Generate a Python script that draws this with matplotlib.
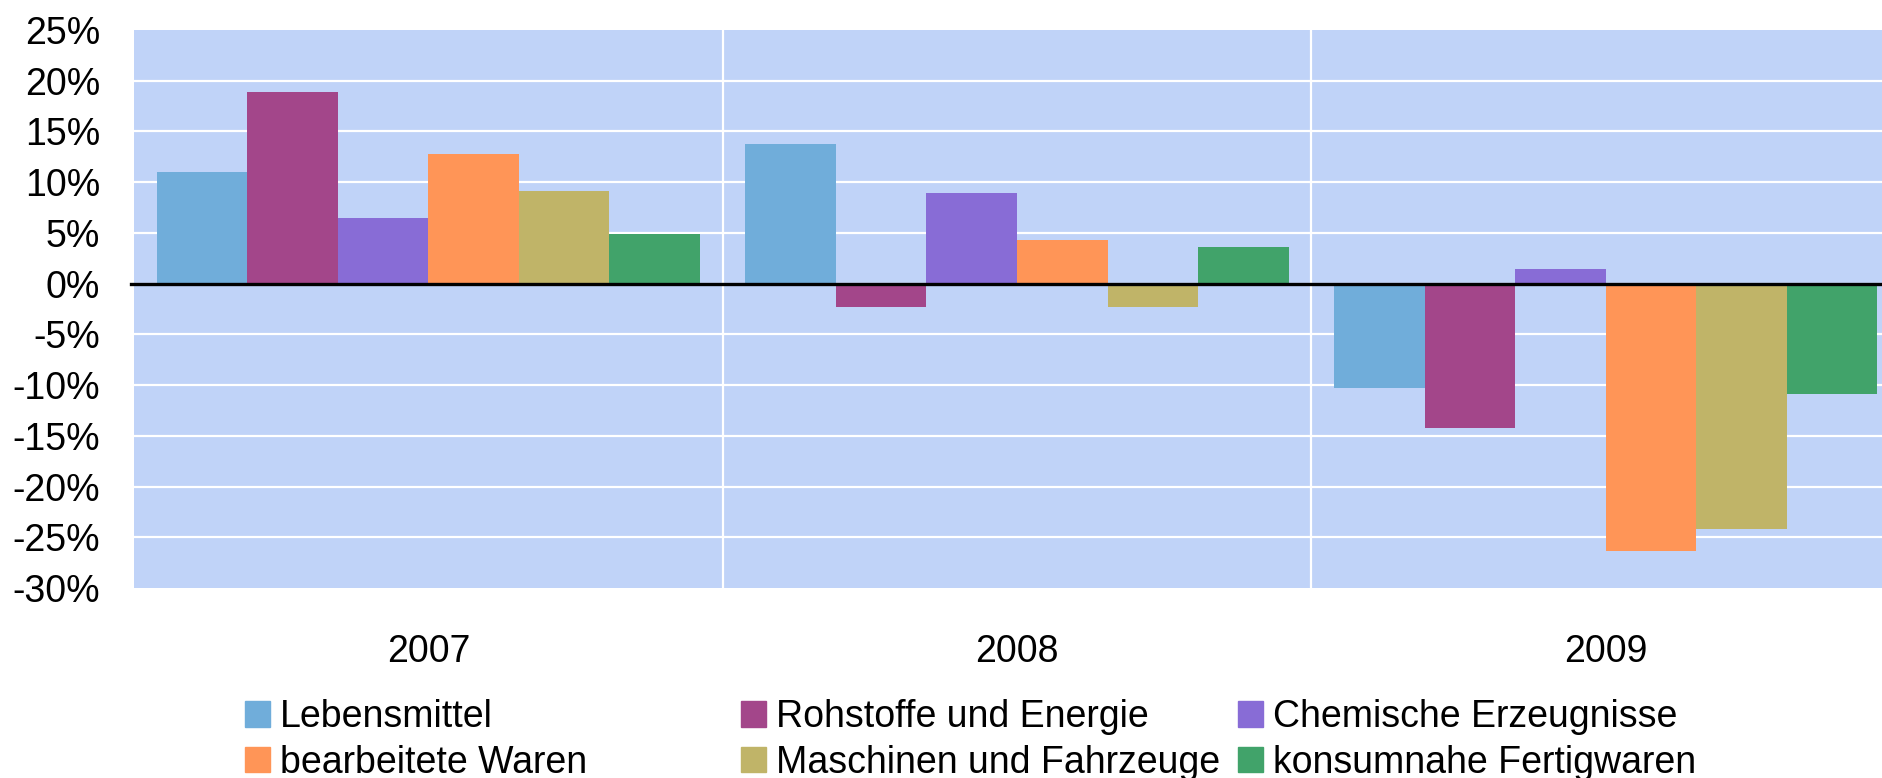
import matplotlib
matplotlib.use('Agg')
import matplotlib.pyplot as plt
import numpy as np
from matplotlib.patches import Patch
from matplotlib.ticker import FuncFormatter

plt.rcParams['font.family'] = ['Liberation Sans', 'DejaVu Sans']

years = ['2007', '2008', '2009']
series = ['Lebensmittel', 'Rohstoffe und Energie', 'Chemische Erzeugnisse',
          'bearbeitete Waren', 'Maschinen und Fahrzeuge', 'konsumnahe Fertigwaren']
colors = ['#70ADDA', '#A3468A', '#886CD6', '#FF9557', '#C0B468', '#41A36A']

lebensmittel = [11.0, 13.8, -10.3]
rohstoffe = [18.9, -2.3, -14.2]
chemische = [6.5, 8.9, 1.4]
bearbeitete = [12.8, 4.3, -26.4]
maschinen = [9.1, -2.3, -24.2]
konsumnahe = [4.9, 3.6, -10.9]
values = [lebensmittel, rohstoffe, chemische, bearbeitete, maschinen, konsumnahe]

W, H = 1883, 778
fig = plt.figure(figsize=(W / 100, H / 100), dpi=100)
ax = fig.add_axes([134 / W, (H - 588) / H, (W - 134) / W, (588 - 30) / H])
ax.set_facecolor('#C0D3F8')

x = np.arange(len(years))
width = 1 / 6.5
for i, (name, vals) in enumerate(zip(series, values)):
    ax.bar(x + (i - 2.5) * width, vals, width, color=colors[i], label=name, zorder=2)

ax.set_xlim(-0.5, 2.471)
ax.set_ylim(-30, 25)
ax.set_yticks(np.arange(-30, 26, 5))
ax.yaxis.set_major_formatter(FuncFormatter(lambda v, p: '%d%%' % v))
ax.set_xticks(x)
ax.set_xticklabels(years)
ax.tick_params(axis='both', length=0, labelsize=27)
ax.tick_params(axis='y', pad=24.5)
ax.tick_params(axis='x', pad=33)

for v in np.arange(-25, 25, 5):
    ax.axhline(v, color='white', lw=1.6, zorder=1)
for v in [0.5, 1.5]:
    ax.axvline(v, color='white', lw=1.6, zorder=1)
ax.axhline(0, xmin=-0.002, color='black', lw=2.4, zorder=3, clip_on=False)

for s in ax.spines.values():
    s.set_visible(False)

# legend: three columns with fixed left edges like the original
col_x = [245, 741, 1238]
for c in range(3):
    handles = [Patch(color=colors[c]), Patch(color=colors[c + 3])]
    labels = [series[c], series[c + 3]]
    fig.legend(handles, labels, loc='upper left',
               bbox_to_anchor=(col_x[c] / W, (H - 699) / H),
               frameon=False, fontsize=27, borderpad=0, borderaxespad=0,
               handlelength=0.667, handleheight=0.667, handletextpad=0.27,
               labelspacing=0.26)

fig.savefig('out.png', dpi=100)
